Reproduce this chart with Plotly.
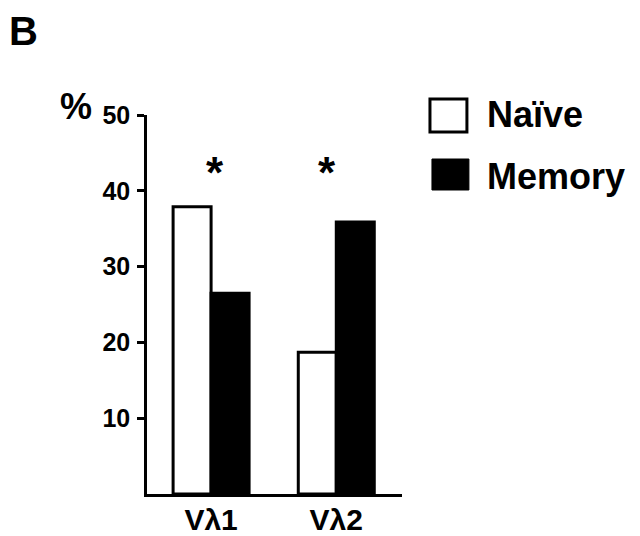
import plotly.graph_objects as go

categories = ["Vλ1", "Vλ2"]
naive = [37.9, 18.7]
memory = [26.5, 35.9]
y_ticks = [10, 20, 30, 40, 50]
y_tick_labels = ["10", "20", "30", "40", "50"]
star_x = [0.03, 0.924]
star_y = [43.0, 43.0]

OFF = 8  # page body margin
W, H = 640 - OFF, 536 - OFF
L, R, T, B = 146.7 - OFF, 402.0 - OFF, 115.0 - OFF, 494.0 - OFF
FONT = "Liberation Sans, Arial, Helvetica, sans-serif"


def px(x):
    return (x - OFF - L) / (R - L)


def py(y):
    return (B - (y - OFF)) / (B - T)


fig = go.Figure()
fig.add_trace(go.Bar(x=[0, 1], y=naive, name="Naïve",
                     marker=dict(color="white", line=dict(color="black", width=3)),
                     showlegend=False))
fig.add_trace(go.Bar(x=[0, 1], y=memory, name="Memory",
                     marker=dict(color="black", line=dict(color="black", width=3)),
                     showlegend=False))

annotations = []
for sx, sy in zip(star_x, star_y):
    annotations.append(dict(x=sx, y=sy, xref="x", yref="y", text="*", showarrow=False,
                            font=dict(family=FONT, size=44, color="black", weight="bold"),
                            xanchor="center", yanchor="middle", yshift=-4))

# panel letter and % label
annotations.append(dict(x=px(8), y=py(8), xref="paper", yref="paper", text="B", showarrow=False,
                        font=dict(family=FONT, size=40, color="black", weight="bold"),
                        xanchor="left", yanchor="top", borderpad=0))
annotations.append(dict(x=px(58), y=py(106), xref="paper", yref="paper", text="%", showarrow=False,
                        font=dict(family=FONT, size=36, color="black", weight="bold"),
                        xanchor="left", yanchor="middle"))
# legend text
annotations.append(dict(x=px(485), y=py(114), xref="paper", yref="paper", text="Naïve", showarrow=False,
                        font=dict(family=FONT, size=36, color="black", weight="bold"),
                        xanchor="left", yanchor="middle"))
annotations.append(dict(x=px(485), y=py(176), xref="paper", yref="paper", text="Memory", showarrow=False,
                        font=dict(family=FONT, size=36, color="black", weight="bold"),
                        xanchor="left", yanchor="middle"))

shapes = [
    dict(type="rect", xref="paper", yref="paper", x0=px(430), x1=px(467), y0=py(99), y1=py(132),
         line=dict(color="black", width=3), fillcolor="white"),
    dict(type="rect", xref="paper", yref="paper", x0=px(432), x1=px(469), y0=py(159), y1=py(190),
         line=dict(color="black", width=1), fillcolor="black"),
]

fig.update_layout(
    width=W, height=H,
    margin=dict(l=L, r=W - R, t=T, b=H - B, pad=0, autoexpand=False),
    paper_bgcolor="white", plot_bgcolor="white",
    barmode="group", bargap=0.393, bargroupgap=0,
    annotations=annotations, shapes=shapes,
    showlegend=False,
    font=dict(family=FONT, color="black"),
)
fig.update_xaxes(
    range=[-0.512, 1.525], tickvals=[0, 1], ticktext=categories,
    showline=True, linecolor="black", linewidth=2.5, showgrid=False, zeroline=False,
    ticks="", tickfont=dict(family=FONT, size=30, color="black", weight="bold"),
    ticklabelstandoff=-3, automargin=False,
)
fig.update_yaxes(
    range=[0, 50], tickvals=y_ticks, ticktext=y_tick_labels,
    showline=True, linecolor="black", linewidth=2.5, showgrid=False, zeroline=False,
    ticks="outside", ticklen=7, tickwidth=2.5, tickcolor="black",
    tickfont=dict(family=FONT, size=25, color="black", weight="bold"),
    ticklabelstandoff=2, automargin=False,
)

fig.write_html("out.html")
